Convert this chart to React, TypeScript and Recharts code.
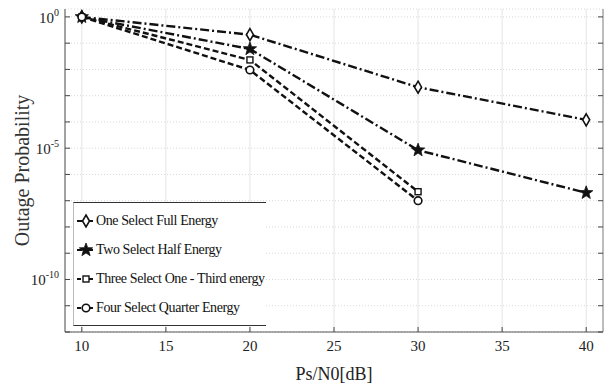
import { LineChart, Line, XAxis, YAxis, CartesianGrid } from 'recharts';

// x values (Ps/N0 in dB)
const snr = [10, 20, 30, 40];

// outage probability per scheme
const oneSelect = [1, 0.21, 2.1e-3, 1.2e-4];
const twoSelect = [1, 0.06, 8.4e-6, 2.0e-7];
const threeSelect = [1, 0.023, 2.2e-7, null];
const fourSelect = [1, 0.0095, 1.0e-7, null];

const seriesNames = [
  'One Select Full Energy',
  'Two Select Half Energy',
  'Three Select One - Third energy',
  'Four Select Quarter Energy',
];

const xTicks = [10, 15, 20, 25, 30, 35, 40];
const yTicks = [1e-12, 1e-11, 1e-10, 1e-9, 1e-8, 1e-7, 1e-6, 1e-5, 1e-4, 1e-3, 1e-2, 1e-1, 1];
const yLabelled = [0, -5, -10];

const data = snr.map((x, i) => ({
  x,
  s1: oneSelect[i],
  s2: twoSelect[i],
  s3: threeSelect[i],
  s4: fourSelect[i],
}));

const FONT = '"Liberation Serif", "Times New Roman", Times, serif';
const INK = '#111';

type Shape = 'diamond' | 'star' | 'square' | 'circle';

function Marker({ cx, cy, shape }: { cx: number; cy: number; shape: Shape }) {
  if (cx == null || cy == null || isNaN(cx) || isNaN(cy)) return null;
  if (shape === 'diamond') {
    return <path d={`M${cx},${cy - 6} L${cx + 3.5},${cy} L${cx},${cy + 6} L${cx - 3.5},${cy} Z`} fill="#fff" stroke={INK} strokeWidth={1.6} />;
  }
  if (shape === 'star') {
    const pts: string[] = [];
    for (let k = 0; k < 10; k++) {
      const r = k % 2 === 0 ? 7 : 2.9;
      const a = -Math.PI / 2 + (k * Math.PI) / 5;
      pts.push(`${cx + r * Math.cos(a)},${cy + r * Math.sin(a)}`);
    }
    return <polygon points={pts.join(' ')} fill={INK} stroke={INK} strokeWidth={0.8} />;
  }
  if (shape === 'square') {
    return <rect x={cx - 3} y={cy - 3} width={6} height={6} fill="#fff" stroke={INK} strokeWidth={1.4} />;
  }
  return <circle cx={cx} cy={cy} r={3.8} fill="#fff" stroke={INK} strokeWidth={1.6} />;
}

const shapes: Shape[] = ['diamond', 'star', 'square', 'circle'];
const dashes = ['9 3 2 3', '9 3 2 3', '6 3', '6 3'];

function BottomTick(props: any) {
  const { x, y, payload } = props;
  return (
    <g>
      <line x1={x} y1={y} x2={x} y2={y - 5} stroke="#444" strokeWidth={1} />
      <text x={x} y={y + 19} textAnchor="middle" fontFamily={FONT} fontSize={15} fill="#222">
        {payload.value}
      </text>
    </g>
  );
}

function TopTick(props: any) {
  const { x, y } = props;
  return <line x1={x} y1={y} x2={x} y2={y + 5} stroke="#444" strokeWidth={1} />;
}

function LeftTick(props: any) {
  const { x, y, payload } = props;
  const exp = Math.round(Math.log10(payload.value));
  return (
    <g>
      <line x1={x} y1={y} x2={x + 5} y2={y} stroke="#444" strokeWidth={1} />
      {yLabelled.includes(exp) && (
        <text x={x - 6} y={y + 6} textAnchor="end" fontFamily={FONT} fill="#222">
          <tspan fontSize={15}>10</tspan>
          <tspan fontSize={10} dy={-7}>{exp}</tspan>
        </text>
      )}
    </g>
  );
}

function RightTick(props: any) {
  const { x, y } = props;
  return <line x1={x} y1={y} x2={x - 5} y2={y} stroke="#444" strokeWidth={1} />;
}

function LegendBox() {
  return (
    <div
      style={{
        position: 'absolute',
        left: 73,
        top: 202,
        background: '#fff',
        borderTop: '1px solid #333',
        borderBottom: '1px solid #333',
        borderLeft: '1px solid #bbb',
        width: 190,
        padding: '3px 0 3px 2px',
        fontFamily: FONT,
        fontSize: 14,
        color: '#111',
      }}
    >
      {seriesNames.map((name, i) => (
        <div key={name} style={{ display: 'flex', alignItems: 'center', height: 29 }}>
          <svg width={20} height={16} style={{ flex: 'none' }}>
            <line x1={1} y1={8} x2={19} y2={8} stroke={INK} strokeWidth={2} strokeDasharray={i < 2 ? '5 2 2 2' : '4 2'} />
            <Marker cx={10} cy={8} shape={shapes[i]} />
          </svg>
          <span style={{ whiteSpace: 'nowrap', letterSpacing: -0.4 }}>{name}</span>
        </div>
      ))}
    </div>
  );
}

export default function App() {
  return (
    <div style={{ position: 'absolute', left: 0, top: 0, width: 609, height: 386, background: '#fff' }}>
      <LineChart width={609} height={386} data={data} margin={{ top: 9, right: 0, bottom: 0, left: 0 }}>
        <CartesianGrid horizontal={false} stroke="#e4e4e4" />
        <CartesianGrid vertical={false} stroke="#d8d8d8" strokeDasharray="1 2" />
        <XAxis
          dataKey="x"
          type="number"
          domain={[9, 41]}
          ticks={xTicks}
          interval={0}
          height={54}
          tickSize={0}
          tickMargin={0}
          tickLine={false}
          stroke="#555"
          tick={<BottomTick />}
          label={{ value: 'Ps/N0[dB]', position: 'insideBottom', offset: 6, fontFamily: FONT, fontSize: 18, fill: '#222' }}
        />
        <XAxis
          xAxisId="top"
          orientation="top"
          type="number"
          domain={[9, 41]}
          ticks={xTicks}
          interval={0}
          height={0}
          tickSize={0}
          tickMargin={0}
          tickLine={false}
          stroke="#888"
          tick={<TopTick />}
        />
        <YAxis
          scale="log"
          domain={[1e-12, 2]}
          allowDataOverflow
          ticks={yTicks}
          interval={0}
          width={65}
          tickSize={0}
          tickMargin={0}
          tickLine={false}
          stroke="#555"
          tick={<LeftTick />}
          label={{ value: 'Outage Probability', angle: -90, position: 'insideLeft', offset: 22, style: { textAnchor: 'middle' }, fontFamily: FONT, fontSize: 20, fill: '#333' }}
        />
        <YAxis
          yAxisId="right"
          orientation="right"
          scale="log"
          domain={[1e-12, 2]}
          allowDataOverflow
          ticks={yTicks}
          interval={0}
          width={6}
          tickSize={0}
          tickMargin={0}
          tickLine={false}
          stroke="#888"
          tick={<RightTick />}
        />
        {(['s1', 's2', 's3', 's4'] as const).map((key, i) => (
          <Line
            key={key}
            dataKey={key}
            name={seriesNames[i]}
            stroke={INK}
            strokeWidth={2.4}
            strokeDasharray={dashes[i]}
            isAnimationActive={false}
            connectNulls={false}
            dot={(p: any) => <Marker key={`${key}-${p.index}`} cx={p.cx} cy={p.cy} shape={shapes[i]} />}
            activeDot={false}
          />
        ))}
      </LineChart>
      <LegendBox />
    </div>
  );
}
